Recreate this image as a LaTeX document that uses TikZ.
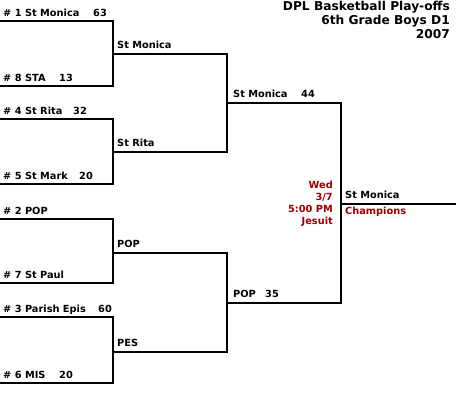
\documentclass[tikz,border=0pt]{standalone}
\usepackage{fontspec}
\setmainfont{DejaVu Sans}
\usetikzlibrary{positioning}
\definecolor{schedred}{RGB}{153,0,0}

\begin{document}
\begin{tikzpicture}[x=1pt,y=-1pt,
		bracket/.style={draw,line width=2pt},
		team/.style={anchor=base west,inner sep=0pt,font=\bfseries\fontsize{9.8}{12}\selectfont},
		score/.style={team},
		sched/.style={anchor=base east,inner sep=0pt,align=right,text=schedred,font=\bfseries\fontsize{9.8}{12}\selectfont},
		heading/.style={anchor=base east,inner sep=0pt,align=right,font=\bfseries\fontsize{12.2}{14}\selectfont}]
	\useasboundingbox (0,0) rectangle (456,411);
	
	% first round
	\coordinate (s1) at (0,21);   \coordinate (s8) at (0,86);
	\coordinate (s4) at (0,119);  \coordinate (s5) at (0,184);
	\coordinate (s2) at (0,219);  \coordinate (s7) at (0,283);
	\coordinate (s3) at (0,317);  \coordinate (s6) at (0,383);
	% second round
	\coordinate (q1) at (113,54);  \coordinate (q2) at (113,152);
	\coordinate (q3) at (113,253); \coordinate (q4) at (113,352);
	% semi finals, final
	\coordinate (h1) at (227,103); \coordinate (h2) at (227,303);
	\coordinate (fin) at (341,204); \coordinate (champ) at (456,204);
	
	\draw[bracket] (s1) -| (q1) |- (s8);
	\draw[bracket] (s4) -| (q2) |- (s5);
	\draw[bracket] (s2) -| (q3) |- (s7);
	\draw[bracket] (s3) -| (q4) |- (s6);
	\draw[bracket] (q1) -| (h1) |- (q2);
	\draw[bracket] (q3) -| (h2) |- (q4);
	\draw[bracket] (h1) -| (fin) |- (h2);
	\draw[bracket] (fin) -- (champ);
	
	\node[team] (n1) at ([shift={(3,-4)}]s1) {\# 1 St Monica};
	\node[score] (p1) at (93,17) {63};
	\node[team] (n8) at ([shift={(3,-4)}]s8) {\# 8 STA};
	\node[score] (p8) at (59,82) {13};
	\node[team] (n4) at ([shift={(3,-4)}]s4) {\# 4 St Rita};
	\node[score] (p4) at (73,115) {32};
	\node[team] (n5) at ([shift={(3,-4)}]s5) {\# 5 St Mark};
	\node[score] (p5) at (79,180) {20};
	\node[team] (n2) at ([shift={(3,-4)}]s2) {\# 2 POP};
	\node[team] (n7) at ([shift={(3,-4)}]s7) {\# 7 St Paul};
	\node[team] (n3) at ([shift={(3,-4)}]s3) {\# 3 Parish Epis};
	\node[score] (p3) at (98,313) {60};
	\node[team] (n6) at ([shift={(3,-4)}]s6) {\# 6 MIS};
	\node[score] (p6) at (59,379) {20};
	
	\node[team] (w1) at ([shift={(4,-5)}]q1) {St Monica};
	\node[team] (w2) at ([shift={(4,-5)}]q2) {St Rita};
	\node[team] (w3) at ([shift={(4,-5)}]q3) {POP};
	\node[team] (w4) at ([shift={(4,-5)}]q4) {PES};
	
	\node[team] (v1) at ([shift={(6,-5)}]h1) {St Monica};
	\node[score] (pv1) at (301,98) {44};
	\node[team] (v2) at ([shift={(6,-5)}]h2) {POP};
	\node[score] (pv2) at (265,298) {35};
	
	\node[sched] (when) at (333,225) {Wed\\3/7\\5:00 PM\\Jesuit};
	\node[team] (winner) at ([shift={(4,-5)}]fin) {St Monica};
	\node[team,text=schedred] (title) at ([shift={(4,11)}]fin) {Champions};
	
	\node[heading] (head) at (450,39) {DPL Basketball Play-offs\\6th Grade Boys D1\\2007};
\end{tikzpicture}
\end{document}
